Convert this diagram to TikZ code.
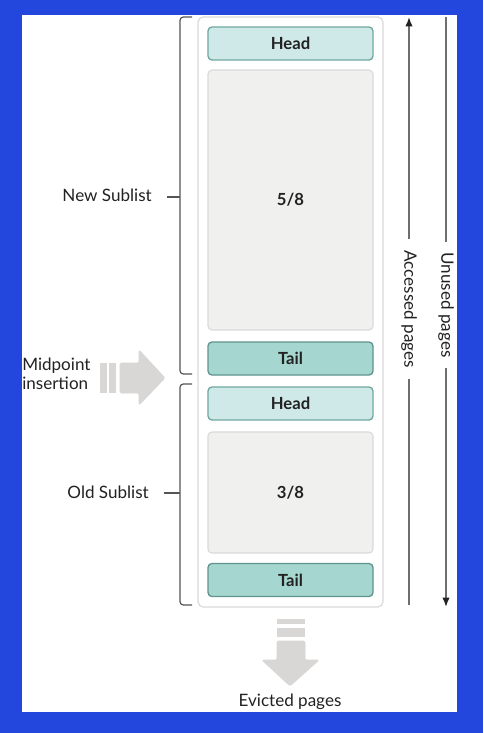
\documentclass[tikz,border=0pt]{standalone}
\usepackage{fontspec}
\setmainfont{Lato}
\usetikzlibrary{arrows.meta}

\definecolor{bgblue}{HTML}{2346DC}
\definecolor{headfill}{HTML}{CFE8E8}
\definecolor{headline}{HTML}{6FA8A0}
\definecolor{tailfill}{HTML}{A5D6CF}
\definecolor{tailline}{HTML}{5F958D}
\definecolor{bodyfill}{HTML}{F0F0EF}
\definecolor{bodyline}{HTML}{DADADA}
\definecolor{arrowgrey}{HTML}{D9D7D5}
\definecolor{bracegrey}{HTML}{555555}
\definecolor{txt}{HTML}{222222}

\tikzset{
  slot/.style={draw, rounded corners=3pt, line width=1pt, minimum width=123.75pt,
    inner sep=0pt, font=\bfseries\fontsize{12.5}{14}\selectfont, text=txt},
  headslot/.style={slot, fill=headfill, draw=headline, minimum height=24.75pt},
  tailslot/.style={slot, fill=tailfill, draw=tailline, minimum height=24.75pt},
  bodyslot/.style={slot, fill=bodyfill, draw=bodyline, line width=0.8pt},
  lbl/.style={font=\fontsize{12.8}{14}\selectfont, text=txt, inner sep=0pt},
  brace/.style={draw=bracegrey, line width=0.9pt, rounded corners=2.5pt},
  side/.style={draw=bracegrey!85, line width=1.1pt},
  tip/.style={-{Latex[length=7pt,width=5.5pt,color=txt]}},
  bigarrow/.style={fill=arrowgrey, draw=arrowgrey, line width=0.5pt, rounded corners=1pt}
}

\begin{document}
\begin{tikzpicture}[x=0.75pt,y=-0.75pt]
% frame
\fill[bgblue] (0,0) rectangle (483,733);
\fill[white] (22,15) rectangle (457,712);
\useasboundingbox (0,0) rectangle (483,733);

% buffer pool
\draw[bodyline, line width=0.9pt, rounded corners=4pt] (198,17) rectangle (383,607);
\node[headslot] (head1) at (290.5,43.5) {Head};
\node[bodyslot, minimum height=195pt] (new) at (290.5,200) {5/8};
\node[tailslot] (tail1) at (290.5,358.5) {Tail};
\node[headslot] (head2) at (290.5,403.5) {Head};
\node[bodyslot, minimum height=90.75pt] (old) at (290.5,492.5) {3/8};
\node[tailslot] (tail2) at (290.5,580) {Tail};

% sublists
\node[lbl, anchor=east] (newlbl) at (152,195) {New Sublist};
\node[lbl, anchor=east] (oldlbl) at (149,492) {Old Sublist};
\coordinate (newtip) at (180,197);
\coordinate (oldtip) at (180,493);
\draw[brace] (192,17) -- (180,17) -- (180,374) -- (192,374);
\draw[brace] (192,384) -- (180,384) -- (180,605) -- (192,605);
\draw[brace] ([xshift=11pt]newlbl.east |- newtip) -- (newtip);
\draw[brace] ([xshift=11pt]oldlbl.east |- oldtip) -- (oldtip);

% midpoint insertion
\node[lbl, anchor=west, align=left, font=\fontsize{12.8}{14.5}\selectfont] (mid) at (22,374) {Midpoint\\insertion};
\fill[arrowgrey] (100,363) rectangle (107,393);
\fill[arrowgrey] (109,363) rectangle (116,393);
\path[bigarrow] (120,363) -- (139,363) -- (139,350) -- (165,378) -- (139,405) -- (139,393) -- (120,393) -- cycle;

% evicted pages
\fill[arrowgrey] (277,619) rectangle (305,624);
\fill[arrowgrey] (277,628) rectangle (305,637);
\path[bigarrow] (277,641) -- (305,641) -- (305,660) -- (319,660) -- (290,686) -- (262,660) -- (277,660) -- cycle;
\node[lbl] (evict) at (290,702) {Evicted pages};

% page movement
\node[lbl, rotate=-90, inner sep=8pt] (acc) at (409,309) {Accessed pages};
\coordinate (acctop) at (409,17);
\coordinate (accbot) at (409,605);
\draw[side, tip] (acc.west) -- (acctop);
\draw[side] (acc.east) -- (accbot);
\node[lbl, rotate=-90, inner sep=8pt] (unused) at (446,305) {Unused pages};
\coordinate (untop) at (446,17);
\coordinate (unbot) at (446,607);
\draw[side] (unused.west) -- (untop);
\draw[side, tip] (unused.east) -- (unbot);
\end{tikzpicture}
\end{document}
